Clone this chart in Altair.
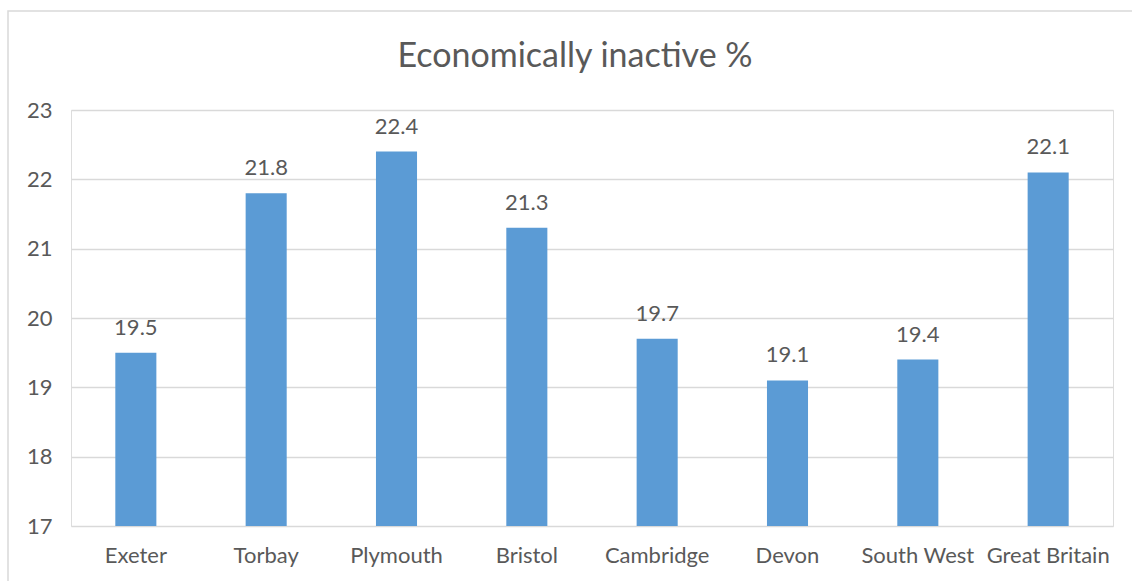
import altair as alt
import pandas as pd

categories = ["Exeter", "Torbay", "Plymouth", "Bristol", "Cambridge", "Devon", "South West", "Great Britain"]
values = [19.5, 21.8, 22.4, 21.3, 19.7, 19.1, 19.4, 22.1]
y_ticks = [17, 18, 19, 20, 21, 22, 23]
title_text = "Economically inactive %"

df = pd.DataFrame({"area": categories, "pct": values})

W, H = 1042, 416
FONT = "Lato"
GREY = "#595959"
FS = 22

x = alt.X("area:N", sort=categories, title=None,
          scale=alt.Scale(paddingInner=0.685, paddingOuter=0.34),
          axis=alt.Axis(labelAngle=0, labelFontSize=FS, labelColor=GREY, labelFont=FONT,
                        labelPadding=19, domain=False, ticks=False, grid=False))
y = alt.Y("pct:Q", title=None,
          scale=alt.Scale(domain=[17, 23], zero=False, nice=False),
          axis=alt.Axis(values=y_ticks, labelFontSize=FS, labelColor=GREY, labelFont=FONT,
                        labelPadding=19, domain=False, ticks=False, gridColor="#D9D9D9",
                        gridWidth=1.3))

base = alt.Chart(df)
one = pd.DataFrame({"t": [title_text]})

border = alt.Chart(one).mark_rect(
    fill=None, stroke="#D9D9D9", strokeWidth=1.5
).encode(x=alt.value(-63), x2=alt.value(W + 100), y=alt.value(-99), y2=alt.value(H + 100))

title = alt.Chart(one).mark_text(
    fontSize=34, font=FONT, color=GREY, align="center", baseline="alphabetic"
).encode(x=alt.value(W / 2 - 17), y=alt.value(-43), text="t:N")

bars = base.mark_bar(color="#5B9BD5").encode(x=x, y=y, y2=alt.datum(17))
labels = base.mark_text(baseline="alphabetic", dy=-18, fontSize=FS, color=GREY, font=FONT).encode(
    x=x, y=y, text=alt.Text("pct:Q", format=".1f"))

chart = alt.layer(border, title, bars, labels).properties(
    width=W, height=H,
    padding={"left": 71, "top": 110, "right": 19, "bottom": 55},
    autosize=alt.AutoSizeParams(type="none"),
).configure_view(stroke=None).configure(background="white")

chart.save("out.html", embed_options={"renderer": "svg", "actions": False})
